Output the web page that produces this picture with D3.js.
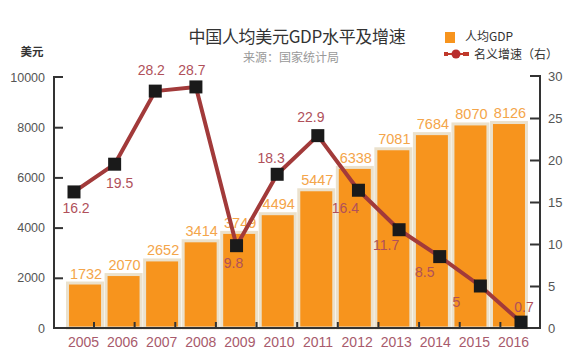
<!DOCTYPE html>
<html><head><meta charset="utf-8">
<script src="https://cdn.jsdelivr.net/npm/d3@7"></script>
<style>
html,body{margin:0;padding:0;background:#fff;}
svg{display:block;}
</style></head>
<body>
<svg id="chart" width="578" height="359"></svg>
<script>
const years = ["2005","2006","2007","2008","2009","2010","2011","2012","2013","2014","2015","2016"];
const gdpPerCapita = [1732,2070,2652,3414,3749,4494,5447,6338,7081,7684,8070,8126];
const growthRate = [16.2,19.5,28.2,28.7,9.8,18.3,22.9,16.4,11.7,8.5,5,0.7];
const growthLabels = ["16.2","19.5","28.2","28.7","9.8","18.3","22.9","16.4","11.7","8.5","5","0.7"];
const leftTicks = [0,2000,4000,6000,8000,10000];
const rightTicks = [0,5,10,15,20,25,30];
// label placement relative to point: [dx, dy(baseline)]
const growthLabelPos = [[2,21],[5,24],[-4,-16],[-4,-12],[-3,22],[-6,-11],[-7,-14],[-13,23],[-13,20],[-15,20],[-24,21],[3,-10]];

const svg = d3.select("#chart");
const left = 54, right = 540, bottom = 328;

const yL = d3.scaleLinear().domain([0,10000]).range([bottom,77]);
const yR = d3.scaleLinear().domain([0,30]).range([bottom,76]);
const xBar = d3.scaleBand().domain(years).range([left,right]).paddingInner(0.17).paddingOuter(0.39);
const xLab = d3.scalePoint().domain(years).range([83,513]);
const xLine = d3.scalePoint().domain(years).range([74,521]);

const orange = "#f7941d", beige = "#ebe1cc", lineCol = "#a23a3a";
const numFont = "'Liberation Sans', Arial, sans-serif";
const cjk = "'Noto Sans CJK SC', sans-serif";

// Bars
svg.append("g").selectAll("rect").data(years).join("rect")
  .attr("x", d => xBar(d) - 1.5)
  .attr("y", (d,i) => yL(gdpPerCapita[i]) - 1.5)
  .attr("width", xBar.bandwidth() + 3)
  .attr("height", (d,i) => bottom - yL(gdpPerCapita[i]) + 1.5)
  .attr("fill", orange)
  .attr("stroke", beige).attr("stroke-width", 3);

// Bar labels
svg.append("g").selectAll("text").data(years).join("text")
  .attr("x", d => xBar(d) + xBar.bandwidth()/2 + 1)
  .attr("y", (d,i) => yL(gdpPerCapita[i]) - 6)
  .attr("text-anchor","middle")
  .attr("font-family","'Liberation Sans Narrow', " + numFont)
  .attr("font-size", 14.5)
  .attr("fill", "#f4a54a")
  .text((d,i) => gdpPerCapita[i]);

// Axes
const axisCol = "#333";
const gL = svg.append("g").attr("transform",`translate(${left},0)`)
  .call(d3.axisRight(yL).tickValues(leftTicks).tickSize(9).tickFormat(""));
gL.select(".domain").attr("stroke",axisCol).attr("stroke-width",2).attr("d",`M9,${yL(10000)}H0V${bottom}`);
gL.selectAll(".tick line").attr("stroke",axisCol).attr("stroke-width",2);
gL.selectAll(".tick").filter(d => d===0 || d===10000).select("line").remove();

svg.append("g").selectAll("text").data(leftTicks).join("text")
  .attr("x", 45).attr("y", d => yL(d) + 4.5)
  .attr("text-anchor","end")
  .attr("font-family", numFont).attr("font-size", 12.5)
  .attr("fill","#555").text(d => d);

const gR = svg.append("g").attr("transform",`translate(${right},0)`)
  .call(d3.axisLeft(yR).tickValues(rightTicks).tickSize(10).tickFormat(""));
gR.select(".domain").attr("stroke",axisCol).attr("stroke-width",2).attr("d",`M-10,${yR(30)}H0V${bottom}`);
gR.selectAll(".tick line").attr("stroke",axisCol).attr("stroke-width",2);
gR.selectAll(".tick").filter(d => d===0 || d===30).select("line").remove();

svg.append("g").selectAll("text").data(rightTicks).join("text")
  .attr("x", 548).attr("y", d => yR(d) + 5)
  .attr("text-anchor","start")
  .attr("font-family", numFont).attr("font-size", 13)
  .attr("fill","#555").text(d => d);

// x axis
svg.append("line").attr("x1",left-1).attr("x2",right+1).attr("y1",bottom).attr("y2",bottom)
  .attr("stroke",axisCol).attr("stroke-width",2);
svg.append("g").selectAll("line").data(years.slice(0,-1)).join("line")
  .attr("x1", d => xLine(d) + 20).attr("x2", d => xLine(d) + 20)
  .attr("y1", bottom).attr("y2", bottom - 6)
  .attr("stroke", axisCol).attr("stroke-width", 2);
const gX = svg.append("g").attr("transform",`translate(0,${bottom})`)
  .call(d3.axisBottom(xLab).tickSize(0).tickPadding(9));
gX.select(".domain").remove();
gX.selectAll("text").attr("font-family", numFont).attr("font-size", 14).attr("fill","#a85a6c");

// Line
const line = d3.line().x((d,i) => xLine(years[i])).y(d => yR(d));
svg.append("path").datum(growthRate).attr("d", line)
  .attr("fill","none").attr("stroke",lineCol).attr("stroke-width",4).attr("stroke-linejoin","round");
svg.append("g").selectAll("rect").data(growthRate).join("rect")
  .attr("x",(d,i) => xLine(years[i]) - 6.5).attr("y", d => yR(d) - 6.5)
  .attr("width",13).attr("height",13).attr("fill","#1a1a1a");
svg.append("g").selectAll("text").data(growthRate).join("text")
  .attr("x",(d,i) => xLine(years[i]) + growthLabelPos[i][0])
  .attr("y",(d,i) => yR(d) + growthLabelPos[i][1])
  .attr("text-anchor","middle")
  .attr("font-family", numFont).attr("font-size", 14)
  .attr("fill","#b0505a").text((d,i) => growthLabels[i]);

// Titles
svg.append("text").attr("x",297).attr("y",43).attr("text-anchor","middle")
  .attr("font-family",cjk).attr("font-size",17).attr("fill","#333").attr("letter-spacing",-0.3)
  .text("中国人均美元GDP水平及增速");
svg.append("text").attr("x",291).attr("y",62).attr("text-anchor","middle")
  .attr("font-family",cjk).attr("font-size",12).attr("fill","#999")
  .text("来源：国家统计局");
svg.append("text").attr("x",32).attr("y",56).attr("text-anchor","middle")
  .attr("font-family",cjk).attr("font-size",11.5).attr("font-weight","bold").attr("fill","#333")
  .text("美元");

// Legend
svg.append("rect").attr("x",445).attr("y",32).attr("width",10).attr("height",11).attr("fill",orange);
svg.append("text").attr("x",465).attr("y",41).attr("font-family",cjk).attr("font-size",12).attr("fill","#333").text("人均GDP");
svg.append("rect").attr("x",444).attr("y",52).attr("width",4).attr("height",4).attr("fill","#c0392b");
svg.append("rect").attr("x",463).attr("y",52).attr("width",6).attr("height",4).attr("fill","#c0392b");
svg.append("line").attr("x1",446).attr("x2",466).attr("y1",54).attr("y2",54).attr("stroke","#c0392b").attr("stroke-width",2);
svg.append("circle").attr("cx",456).attr("cy",54).attr("r",4.5).attr("fill","#b82e2e");
svg.append("text").attr("x",474).attr("y",59).attr("font-family",cjk).attr("font-size",12).attr("fill","#333").text("名义增速（右）");
</script>
</body></html>
